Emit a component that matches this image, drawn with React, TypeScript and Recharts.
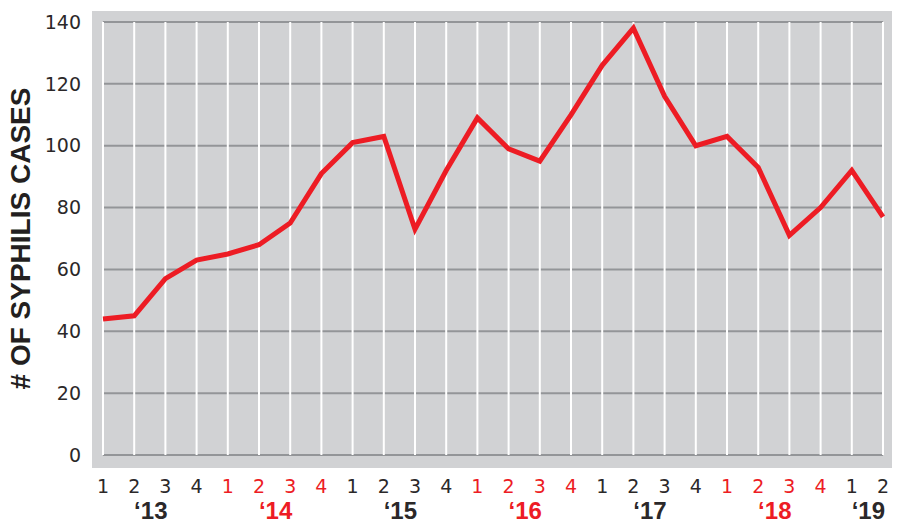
import { CartesianGrid, Line, LineChart, XAxis, YAxis } from "recharts";

const years = ["13", "14", "15", "16", "17", "18", "19"];
const quarterYear = [
	"13", "13", "13", "13",
	"14", "14", "14", "14",
	"15", "15", "15", "15",
	"16", "16", "16", "16",
	"17", "17", "17", "17",
	"18", "18", "18", "18",
	"19", "19",
];
const quarterLabels = [
	"1", "2", "3", "4",
	"1", "2", "3", "4",
	"1", "2", "3", "4",
	"1", "2", "3", "4",
	"1", "2", "3", "4",
	"1", "2", "3", "4",
	"1", "2",
];
const cases = [44, 45, 57, 63, 65, 68, 75, 91, 101, 103, 73, 92, 109, 99, 95, 110, 126, 138, 116, 100, 103, 93, 71, 80, 92, 77];
const yTicks = [0, 20, 40, 60, 80, 100, 120, 140];

const DARK = "#2b2829";
const RED = "#ed1c24";

const data = cases.map((value, i) => ({ i, key: `${quarterYear[i]}-${quarterLabels[i]}-${i}`, q: quarterLabels[i], year: quarterYear[i], value }));

// centre of each year's quarters, in index units of the numeric axis
const yearCenters = years.map((y) => {
	const idx = data.filter((d) => d.year === y).map((d) => d.i);
	return idx.reduce((a, b) => a + b, 0) / idx.length;
});

const yearColor = (y: string) => (years.indexOf(y) % 2 === 0 ? DARK : RED);

function QuarterTick({ x, y, payload }: any) {
	const row = data[payload.index] ?? data.find((d) => d.key === payload.value);
	return (
		<text x={x} y={y + 38} textAnchor="middle" fontFamily="DejaVu Sans" fontSize={19} fill={yearColor(row.year)}>
			{row.q}
		</text>
	);
}

function YearTick({ x, y, payload }: any) {
	const k = yearCenters.indexOf(payload.value);
	const yr = years[k];
	return (
		<text x={x + 1} y={y + 29} textAnchor="middle" fontFamily="Liberation Sans" fontWeight="bold" fontSize={24} fill={yearColor(yr)}>
			{"\u2018" + yr}
		</text>
	);
}

export default function App() {
	return (
		<div style={{ position: "absolute", left: 0, top: 0, width: 900, height: 525, background: "#fff" }}>
			<div style={{ position: "absolute", left: 92, top: 11, width: 800, height: 457, background: "#d1d2d4" }} />
			<div style={{ position: "absolute", left: 0, top: 0 }}>
				<LineChart width={900} height={525} data={data} margin={{ top: 22, right: 17, left: 0, bottom: 0 }}>
					<CartesianGrid vertical={false} stroke="#939598" strokeWidth={2} />
					<CartesianGrid horizontal={false} stroke="#ffffff" strokeWidth={2} />
					<XAxis
						dataKey="key"
						type="category"
						scale="point"
						padding={{ left: 0, right: 0 }}
						interval={0}
						tickLine={false}
						axisLine={false}
						tickSize={0}
						tickMargin={0}
						height={35}
						tick={<QuarterTick />}
					/>
					<XAxis
						xAxisId="yr"
						dataKey="i"
						type="number"
						domain={[0, cases.length - 1]}
						ticks={yearCenters}
						interval={0}
						tickLine={false}
						axisLine={false}
						tickSize={0}
						tickMargin={0}
						height={35}
						tick={<YearTick />}
					/>
					<YAxis
						domain={[0, 140]}
						ticks={yTicks}
						interval={0}
						width={103}
						tickLine={false}
						axisLine={false}
						tickSize={0}
						tickMargin={22}
						tick={{ fill: DARK, fontSize: 19, fontFamily: "DejaVu Sans" }}
						label={{
							value: "# OF SYPHILIS CASES",
							angle: -90,
							position: "insideLeft",
							offset: 20,
							style: { textAnchor: "middle", fontFamily: "Liberation Sans", fontWeight: "bold", fontSize: 28, fill: "#231f20" },
						}}
					/>
					<Line dataKey="value" stroke={RED} strokeWidth={5} dot={false} isAnimationActive={false} type="linear" />
				</LineChart>
			</div>
		</div>
	);
}
